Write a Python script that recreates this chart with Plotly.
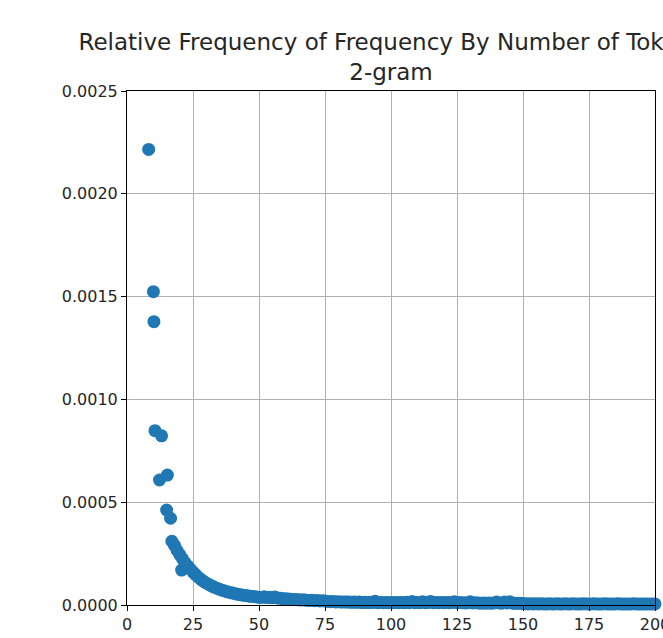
import plotly.graph_objects as go

title_line1 = "Relative Frequency of Frequency By Number of Tokens"
title_line2 = "2-gram"

# leading sparse points (x, y)
head_x = [8.2, 10.0, 10.2, 10.6, 13.1, 12.3, 15.3, 15.0, 16.5, 20.7]
head_y = [0.002216, 0.001524, 0.001378, 0.000848, 0.000823, 0.000608, 0.000632,
          0.000462, 0.000422, 0.000170]

# dense tail, x = 17 .. 200
tail_x = list(range(17, 201))
tail_y = [
    # 17-30
    0.000310, 0.000290, 0.000265, 0.000245, 0.000225, 0.000205, 0.000190, 0.000175,
    0.000160, 0.000148, 0.000135, 0.000125, 0.000115, 0.000107,
    # 31-45
    0.000100, 0.000093, 0.000087, 0.000082, 0.000077, 0.000072, 0.000068, 0.000064,
    0.000061, 0.000058, 0.000055, 0.000052, 0.000050, 0.000048, 0.000046,
    # 46-60
    0.000044, 0.000042, 0.000041, 0.000039, 0.000038, 0.000037, 0.000040, 0.000036,
    0.000038, 0.000035, 0.000039, 0.000034, 0.000033, 0.000031, 0.000030,
    # 61-75
    0.000029, 0.000028, 0.000026, 0.000027, 0.000025, 0.000024, 0.000025, 0.000023,
    0.000022, 0.000023, 0.000021, 0.000022, 0.000020, 0.000021, 0.000020,
    # 76-100
    0.000017, 0.000016, 0.000017, 0.000015, 0.000016, 0.000015, 0.000014, 0.000015,
    0.000014, 0.000013, 0.000014, 0.000013, 0.000014, 0.000012, 0.000013, 0.000012,
    0.000013, 0.000012, 0.000018, 0.000011, 0.000012, 0.000011, 0.000012, 0.000011,
    0.000012,
    # 101-125
    0.000011, 0.000012, 0.000011, 0.000012, 0.000011, 0.000013, 0.000011, 0.000017,
    0.000011, 0.000012, 0.000011, 0.000016, 0.000011, 0.000012, 0.000017, 0.000011,
    0.000012, 0.000011, 0.000012, 0.000011, 0.000012, 0.000011, 0.000012, 0.000016,
    0.000011,
    # 126-150
    0.000012, 0.000011, 0.000010, 0.000011, 0.000016, 0.000010, 0.000011, 0.000010,
    0.000009, 0.000010, 0.000009, 0.000010, 0.000009, 0.000010, 0.000015, 0.000010,
    0.000009, 0.000015, 0.000010, 0.000016, 0.000009, 0.000008, 0.000009, 0.000008,
    0.000007,
    # 151-175
    0.000006, 0.000005, 0.000006, 0.000005, 0.000006, 0.000005, 0.000006, 0.000005,
    0.000005, 0.000006, 0.000005, 0.000005, 0.000006, 0.000005, 0.000005, 0.000006,
    0.000005, 0.000005, 0.000006, 0.000005, 0.000005, 0.000005, 0.000006, 0.000005,
    0.000005,
    # 176-200
    0.000005, 0.000006, 0.000005, 0.000005, 0.000005, 0.000006, 0.000005, 0.000005,
    0.000005, 0.000005, 0.000006, 0.000005, 0.000005, 0.000005, 0.000005, 0.000005,
    0.000006, 0.000005, 0.000005, 0.000005, 0.000005, 0.000005, 0.000005, 0.000005,
    0.000005,
]

x_ticks = [0, 25, 50, 75, 100, 125, 150, 175, 200]
y_ticks = [0.0, 0.0005, 0.0010, 0.0015, 0.0020, 0.0025]

xs = head_x + tail_x
ys = head_y + tail_y

fig = go.Figure(go.Scatter(
    x=xs, y=ys, mode="markers",
    marker=dict(color="#1f77b4", size=13, line=dict(width=0)),
    cliponaxis=False, showlegend=False,
))

font = "DejaVu Sans, sans-serif"
axis_common = dict(
    showline=True, linecolor="black", linewidth=1, mirror=True,
    ticks="outside", ticklen=5, tickwidth=1, tickcolor="black",
    showgrid=True, gridcolor="#b0b0b0", gridwidth=1, zeroline=False,
    tickfont=dict(family=font, size=16, color="#262626"),
    ticklabeloverflow="allow", automargin=False,
)

fig.update_layout(
    width=663, height=638,
    margin=dict(l=127, r=8, t=91, b=33, autoexpand=False),
    paper_bgcolor="white", plot_bgcolor="white",
    title=dict(
        text=title_line1 + "<br>" + title_line2,
        x=(127 + 655) / 2 / 663, xanchor="center",
        y=1 - 50 / 638, yanchor="top",
        font=dict(family=font, size=23, color="#262626"),
    ),
    xaxis=dict(range=[0, 200], tickvals=x_ticks, ticktext=[str(v) for v in x_ticks],
               **axis_common),
    yaxis=dict(range=[0, 0.0025], tickvals=y_ticks,
               ticktext=[f"{v:.4f}" for v in y_ticks], **axis_common),
)

fig.write_html("out.html")
